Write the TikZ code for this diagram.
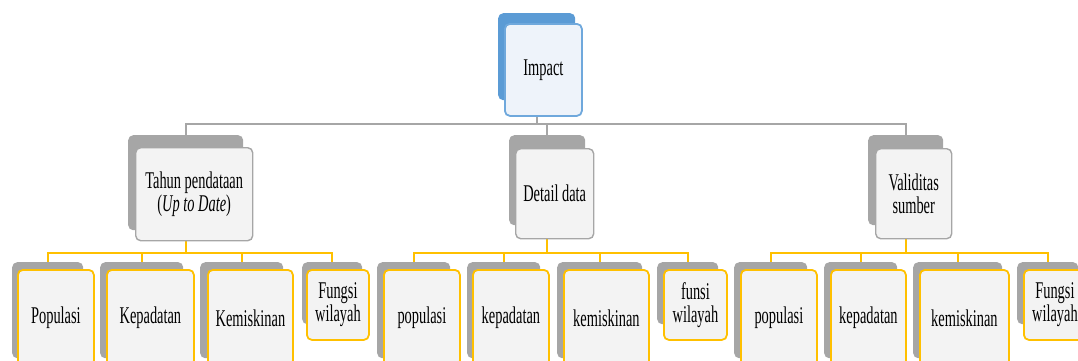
\documentclass[tikz,border=0pt]{standalone}
\usepackage{fontspec}
\newfontfamily\nf[FakeStretch=0.6]{Liberation Serif}
\definecolor{bblue}{HTML}{5B9BD5}
\definecolor{fblue}{HTML}{6FA8DC}
\definecolor{lblue}{HTML}{EEF3FA}
\definecolor{bgray}{HTML}{A6A6A6}
\definecolor{fgray}{HTML}{F3F3F3}
\definecolor{gold}{HTML}{FFC000}
\tikzset{
  box/.style={anchor=north west, inner sep=0pt, rounded corners=5pt, align=center,
    font=\nf\fontsize{24}{23}\selectfont},
  backb/.style={box, fill=bblue},
  backg/.style={box, fill=bgray},
  frontb/.style={box, fill=lblue, draw=fblue, line width=1.8pt},
  frontm/.style={box, fill=fgray, draw=bgray, line width=1.4pt},
  frontl/.style={box, fill=fgray, draw=gold, line width=1.8pt},
  gline/.style={draw=bgray, line width=1.8pt},
  yline/.style={draw=gold, line width=1.8pt},
}
\begin{document}
\begin{tikzpicture}[x=1pt,y=-1pt]
\useasboundingbox (0,0) rectangle (1078,360);
\clip (0,0) rectangle (1078,360);
\coordinate (bus1) at (0,124);
\coordinate (bus2) at (0,253);
% back shapes
\node[backb, minimum width=77pt, minimum height=87pt] (imB) at (498,13) {};
\node[backg, minimum width=115pt, minimum height=95pt] (tB) at (128,135) {};
\node[backg, minimum width=76pt, minimum height=90pt] (dB) at (509,135) {};
\node[backg, minimum width=75pt, minimum height=90pt] (vB) at (868,135) {};
\node[backg, minimum width=71pt, minimum height=96pt] (p1B) at (12,262) {};
\node[backg, minimum width=83pt, minimum height=96pt] (k1B) at (100,262) {};
\node[backg, minimum width=83pt, minimum height=96pt] (m1B) at (200,262) {};
\node[backg, minimum width=60pt, minimum height=62pt] (f1B) at (302,262) {};
\node[backg, minimum width=73pt, minimum height=96pt] (p2B) at (377,262) {};
\node[backg, minimum width=73pt, minimum height=96pt] (k2B) at (467,262) {};
\node[backg, minimum width=85pt, minimum height=96pt] (m2B) at (557,262) {};
\node[backg, minimum width=61pt, minimum height=62pt] (f2B) at (657,262) {};
\node[backg, minimum width=73pt, minimum height=96pt] (p3B) at (734,262) {};
\node[backg, minimum width=73pt, minimum height=96pt] (k3B) at (824,262) {};
\node[backg, minimum width=89pt, minimum height=96pt] (m3B) at (913,262) {};
\node[backg, minimum width=61pt, minimum height=62pt] (f3B) at (1017,262) {};
% connectors
\foreach \c in {tB,dB,vB}
  \draw[gline] (imB.south) -- (imB.south |- bus1) -| (\c.north);
\foreach \c in {p1B,k1B,m1B,f1B}
  \draw[yline] (tB.south) -- (tB.south |- bus2) -| (\c.north);
\foreach \c in {p2B,k2B,m2B,f2B}
  \draw[yline] (dB.south) -- (dB.south |- bus2) -| (\c.north);
\foreach \c in {p3B,k3B,m3B,f3B}
  \draw[yline] (vB.south) -- (vB.south |- bus2) -| (\c.north);
% front shapes
\node[frontb, minimum width=77pt, minimum height=92pt] (im) at (504,23) {Impact};
\node[frontm, minimum width=117pt, minimum height=93pt] (t) at (135,147) {Tahun pendataan\\(\textit{Up to Date})};
\node[frontm, minimum width=78pt, minimum height=90pt] (d) at (515,148) {Detail data};
\node[frontm, minimum width=76pt, minimum height=90pt] (v) at (875,148) {Validitas\\sumber};
\node[frontl, minimum width=76pt, minimum height=96pt] (p1) at (17,269) {Populasi};
\node[frontl, minimum width=87pt, minimum height=96pt] (k1) at (106,269) {Kepadatan};
\node[frontl, minimum width=85pt, minimum height=96pt] (m1) at (207,269) {Kemiskinan};
\node[frontl, minimum width=62pt, minimum height=70pt] (f1) at (306,269) {Fungsi\\wilayah};
\node[frontl, minimum width=76pt, minimum height=96pt] (p2) at (383,269) {populasi};
\node[frontl, minimum width=76pt, minimum height=96pt] (k2) at (472,269) {kepadatan};
\node[frontl, minimum width=85pt, minimum height=96pt] (m2) at (563,269) {kemiskinan};
\node[frontl, minimum width=63pt, minimum height=70pt] (f2) at (663,269) {funsi\\wilayah};
\node[frontl, minimum width=76pt, minimum height=96pt] (p3) at (740,269) {populasi};
\node[frontl, minimum width=75pt, minimum height=96pt] (k3) at (830,269) {kepadatan};
\node[frontl, minimum width=89pt, minimum height=96pt] (m3) at (919,269) {kemiskinan};
\node[frontl, minimum width=62pt, minimum height=70pt] (f3) at (1023,269) {Fungsi\\wilayah};
\end{tikzpicture}
\end{document}
